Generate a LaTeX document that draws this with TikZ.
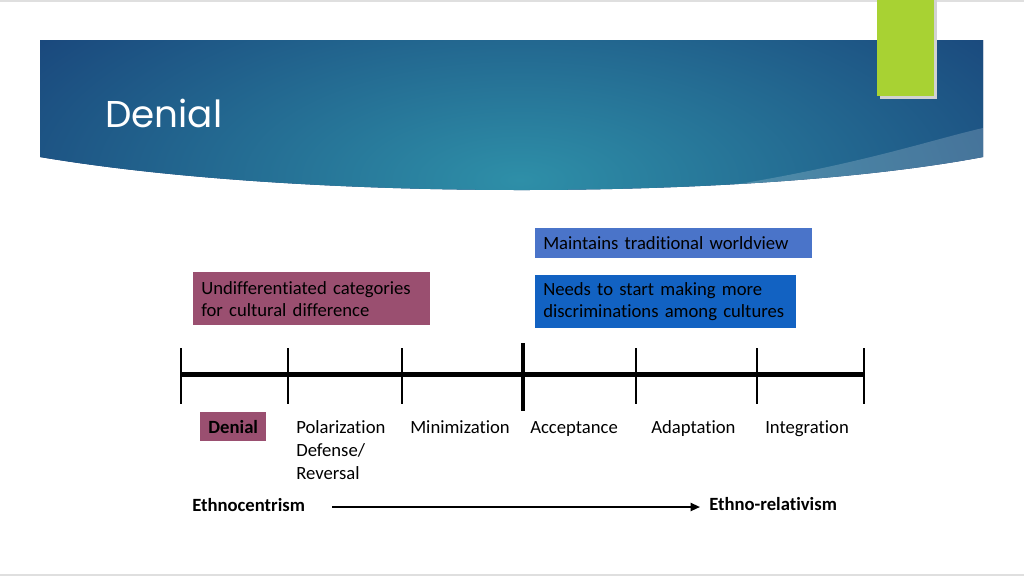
\documentclass[tikz,border=0pt]{standalone}
\usepackage{fontspec}
\setmainfont{Carlito}[Ligatures=NoCommon]
\newfontfamily\titlefont{Poppins}
\usetikzlibrary{arrows.meta}
\definecolor{bandnavy}{HTML}{163A74}
\definecolor{bandteal}{HTML}{2E8FA8}
\definecolor{mauve}{HTML}{9A4F70}
\definecolor{blueA}{HTML}{4A74C9}
\definecolor{blueB}{HTML}{1262C2}
\definecolor{lime}{HTML}{A8D233}
\tikzset{
  body/.style={font=\fontsize{14}{16.5}\selectfont, text=black, inner sep=0pt},
  bodybold/.style={body, font=\fontsize{14}{16.5}\selectfont\bfseries},
  stagelbl/.style={body, font=\fontsize{14}{17.25}\selectfont, anchor=base west, align=left},
  box/.style={body, anchor=north west, align=left, inner xsep=6pt},
  tick/.style={line width=1.5pt},
  bigtick/.style={line width=3pt},
  axis/.style={line width=3.75pt},
  flow/.style={line width=1.5pt, -{Triangle[length=7pt,width=6pt]}}
}
\begin{document}
\begin{tikzpicture}[x=0.75pt,y=-0.75pt]
\useasboundingbox (0,0) rectangle (1024,576);
\fill[white] (0,0) rectangle (1024,576);
\draw[gray!25, line width=1pt] (0,1) -- (1024,1);
\draw[gray!25, line width=1pt] (0,575) -- (1024,575);
% header band
\begin{scope}
\clip (40,40) -- (983,40) -- (983,157) .. controls (750,201) and (300,201) .. (40,157) -- cycle;
\fill[bandnavy] (0,0) rectangle (1024,250);
\shade[inner color=bandteal, outer color=bandnavy] (520,180) ellipse (700 and 300);
\fill[white, opacity=0.18] (700,190) .. controls (850,168) and (930,140) .. (983,128) -- (1024,128) -- (1024,250) -- (700,250) -- cycle;
\end{scope}
\fill[gray!35] (880,0) rectangle (937,99);
\fill[lime] (877,0) rectangle (934,96);
\node[anchor=base west, inner sep=0pt, text=white, font=\titlefont\fontsize{28}{34}\selectfont] (title) at (105,127) {Denial};
% boxes
\node[box, fill=mauve, minimum width=233*0.75pt, minimum height=53*0.75pt, text width=221*0.75pt] (undiff) at (193,272) {Undifferentiated categories\\for cultural difference};
\node[box, fill=blueA, minimum width=273*0.75pt, minimum height=30*0.75pt, text width=261*0.75pt] (maint) at (535,228) {Maintains traditional worldview};
\node[box, fill=blueB, minimum width=257*0.75pt, minimum height=53*0.75pt, text width=245*0.75pt] (needs) at (535,275) {Needs to start making more\\discriminations among cultures};
% timeline
\coordinate (t0) at (181,374);
\coordinate (t6) at (864,374);
\draw[axis] (t0) -- (t6);
\foreach \x in {181,288,402,636,757,864}{\draw[tick] (\x,348) -- (\x,404);}
\draw[bigtick] (523,343) -- (523,411);
% stage labels
\node[bodybold, fill=mauve, anchor=north west, minimum width=66*0.75pt, minimum height=29*0.75pt] (denial) at (200,412) {Denial};
\node[stagelbl] (pol) at (296,479) {Polarization\\Defense/\\Reversal};
\node[stagelbl] (mini) at (410,433) {Minimization};
\node[stagelbl] (acc) at (530,433) {Acceptance};
\node[stagelbl] (adap) at (651,433) {Adaptation};
\node[stagelbl] (integ) at (765,433) {Integration};
% bottom
\node[bodybold, anchor=base west] (ethno) at (192,511) {Ethnocentrism};
\node[bodybold, anchor=base west] (rel) at (709,510) {Ethno-relativism};
\draw[flow] ([xshift=27*0.75pt, yshift=3pt]ethno.base east) -- ([xshift=-9*0.75pt, yshift=3pt]ethno.base east -| rel.base west);
\end{tikzpicture}
\end{document}
